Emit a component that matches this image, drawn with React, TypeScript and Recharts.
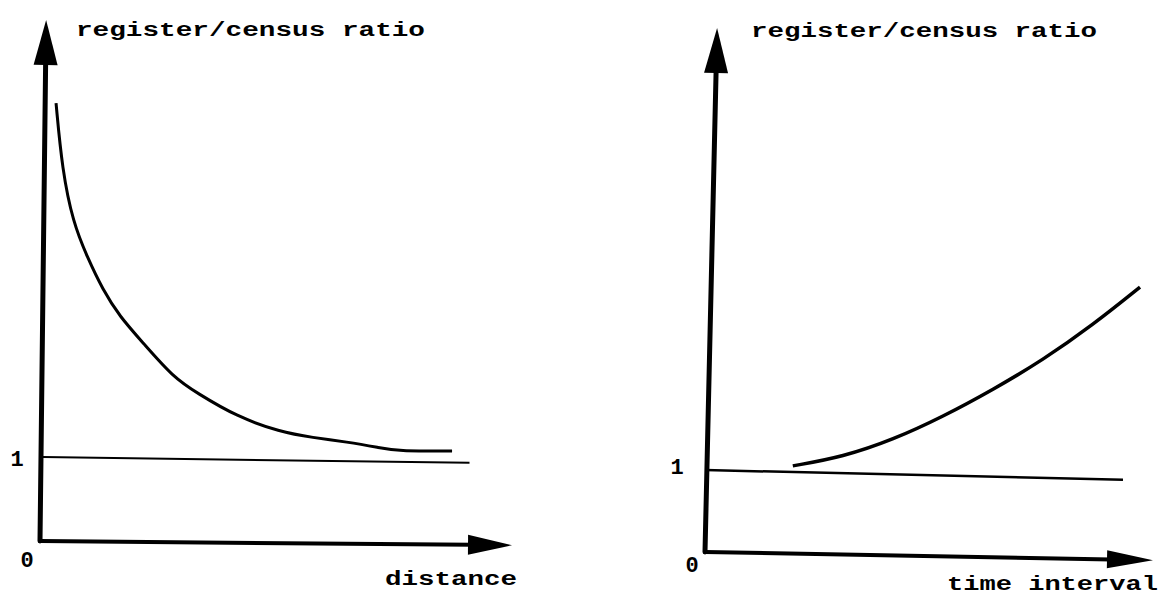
import React from 'react';
import { LineChart, Line, XAxis, YAxis, ReferenceLine } from 'recharts';

// left panel: ratio falls with distance
const distanceX = [0.34, 0.47, 0.7, 1.0, 1.33, 1.69, 2.18, 2.82, 3.33, 4.17, 5.08, 5.78, 6.5, 7.2, 7.56, 8.73];
const distanceRatio = [5.21, 4.42, 3.79, 3.38, 2.99, 2.67, 2.36, 1.95, 1.76, 1.48, 1.3, 1.23, 1.18, 1.11, 1.07, 1.07];

// right panel: ratio rises with time interval
const timeX = [1.96, 3.08, 4.2, 5.31, 6.43, 7.54, 8.66, 9.71];
const timeRatio = [1.05, 1.16, 1.37, 1.65, 1.98, 2.34, 2.77, 3.23];

// hand drawn "ratio = 1" lines, slightly sloped
const leftUnity = [{ x: 0.06, y: 1.0 }, { x: 9.1, y: 0.93 }];
const rightUnity = [{ x: 0, y: 1.0 }, { x: 9.33, y: 0.88 }];

const yTitle = 'register/census ratio';
const leftXTitle = 'distance';
const rightXTitle = 'time interval';

const distanceData = distanceX.map((x, i) => ({ x, ratio: distanceRatio[i] }));
const timeData = timeX.map((x, i) => ({ x, ratio: timeRatio[i] }));

const font = { fontFamily: '"Liberation Mono", monospace', fontSize: 20, fontWeight: 700, fill: '#000' };
const digit = { ...font, fontSize: 22 };

const arrow = (len: number, half: number, width: number) => (p: any) => {
  const { x1, y1, x2, y2 } = p;
  const dx = x2 - x1;
  const dy = y2 - y1;
  const L = Math.hypot(dx, dy) || 1;
  const ux = dx / L;
  const uy = dy / L;
  const bx = x2 - ux * len;
  const by = y2 - uy * len;
  const px = -uy * half;
  const py = ux * half;
  return (
    <g>
      <line x1={x1} y1={y1} x2={bx + ux * 4} y2={by + uy * 4} stroke="#000" strokeWidth={width} strokeLinecap="round" />
      <polygon points={`${x2},${y2} ${bx + px},${by + py} ${bx - px},${by - py}`} fill="#000" />
    </g>
  );
};

export default function App() {
  return (
    <div style={{ position: 'absolute', left: 0, top: 0, width: 1162, height: 595, background: '#fff' }}>
      <div style={{ position: 'absolute', left: 0, top: 0 }}>
        <LineChart width={580} height={595} margin={{ left: 40, right: 68, top: 20, bottom: 54 }}>
          <XAxis type="number" dataKey="x" domain={[0, 10]} hide />
          <YAxis type="number" domain={[0, 6.2]} hide />
          <ReferenceLine segment={[{ x: 0, y: 0 }, { x: 0.13, y: 6.2 }]} ifOverflow="visible" shape={arrow(45, 12, 5)} />
          <ReferenceLine segment={[{ x: 0, y: 0 }, { x: 10, y: -0.05 }]} ifOverflow="visible" shape={arrow(44, 10, 4)} />
          <ReferenceLine segment={leftUnity} ifOverflow="visible" stroke="#000" strokeWidth={2} />
          <Line data={distanceData} dataKey="ratio" type="basis" stroke="#000" strokeWidth={3} dot={false} isAnimationActive={false} />
          <text x={76} y={36} textLength={349} lengthAdjust="spacingAndGlyphs" {...font}>{yTitle}</text>
          <text x={385} y={585} textLength={132} lengthAdjust="spacingAndGlyphs" {...font}>{leftXTitle}</text>
          <text x={17} y={466} textAnchor="middle" {...digit}>1</text>
          <text x={27} y={567} textAnchor="middle" {...digit}>0</text>
        </LineChart>
      </div>
      <div style={{ position: 'absolute', left: 600, top: 0 }}>
        <LineChart width={562} height={595} margin={{ left: 105, right: 9, top: 28, bottom: 43 }}>
          <XAxis type="number" dataKey="x" domain={[0, 10]} hide />
          <YAxis type="number" domain={[0, 6.39]} hide />
          <ReferenceLine segment={[{ x: 0, y: 0 }, { x: 0.27, y: 6.39 }]} ifOverflow="visible" shape={arrow(45, 12, 5)} />
          <ReferenceLine segment={[{ x: 0, y: 0 }, { x: 10, y: -0.1 }]} ifOverflow="visible" shape={arrow(46, 9, 4)} />
          <ReferenceLine segment={rightUnity} ifOverflow="visible" stroke="#000" strokeWidth={2.5} />
          <Line data={timeData} dataKey="ratio" type="basis" stroke="#000" strokeWidth={3.5} dot={false} isAnimationActive={false} />
          <text x={151} y={37} textLength={346} lengthAdjust="spacingAndGlyphs" {...font}>{yTitle}</text>
          <text x={347} y={590} textLength={211} lengthAdjust="spacingAndGlyphs" {...font}>{rightXTitle}</text>
          <text x={77} y={474} textAnchor="middle" {...digit}>1</text>
          <text x={92} y={572} textAnchor="middle" {...digit}>0</text>
        </LineChart>
      </div>
    </div>
  );
}
